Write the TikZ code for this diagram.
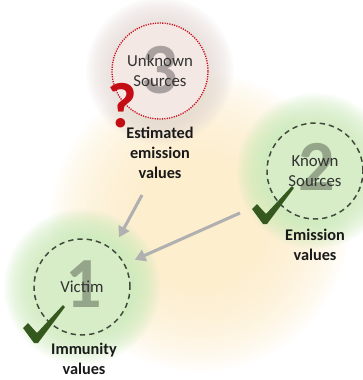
\documentclass[tikz,border=0pt]{standalone}
\usepackage{fontspec}
\setmainfont{Carlito}
\usetikzlibrary{arrows.meta, positioning}
\definecolor{creamglow}{RGB}{252,234,196}
\definecolor{leafglow}{RGB}{204,233,186}
\definecolor{leaffill}{RGB}{214,237,199}
\definecolor{fogglow}{RGB}{228,217,213}
\definecolor{fogfill}{RGB}{243,232,228}
\definecolor{ringgrey}{RGB}{64,72,58}
\definecolor{ringred}{RGB}{200,16,30}
\definecolor{tickgreen}{RGB}{52,88,30}
\definecolor{arrowgrey}{RGB}{176,176,176}
\definecolor{qred}{RGB}{196,12,20}
\tikzset{
  ring/.style={circle, minimum size=72pt, inner sep=0pt, align=center, text=black!80,
    font=\fontsize{12.6}{15}\selectfont},
  numeral/.style={inner sep=0pt, text=black, opacity=0.3, font=\fontsize{54}{54}\selectfont\bfseries},
  valuelabel/.style={align=center, inner sep=0pt, text=black!90, font=\fontsize{12.2}{15}\selectfont\bfseries},
  flow/.style={draw=arrowgrey, line width=2.3pt, -{Triangle[length=8pt, width=9pt]}},
  checkmark/.pic={\fill[tickgreen] (-13,-14) -- (-8,-19) -- (1,-9) -- (27,-37) -- (29,-35) -- (2,1) -- (-2,1) -- cycle;}
}
\begin{document}
\begin{tikzpicture}[x=0.75pt, y=-0.75pt]
  \useasboundingbox (0,0) rectangle (363,380);
  \foreach \k in {0,...,39}
    \fill[creamglow, opacity=0.045] (200,222) circle ({150-2.2*\k});
  \foreach \k in {0,...,23}
    \fill[fogglow, opacity=0.065] (160,71) circle ({74-1.25*\k});
  \foreach \k in {0,...,23}
    \fill[leafglow, opacity=0.07] (315,171) circle ({78-1.25*\k});
  \foreach \k in {0,...,23}
    \fill[leafglow, opacity=0.07] (82,287) circle ({78-1.25*\k});

  \node[ring, fill=fogfill, draw=ringred, line width=1pt, dash pattern=on 0.9pt off 0.9pt,
    path picture={\node[numeral] at ([yshift=1pt]path picture bounding box.center) {3};}]
    (unknown) at (160,71) {Unknown\\Sources};
  \node[ring, fill=leaffill, draw=ringgrey, line width=1.1pt, dash pattern=on 4pt off 3pt,
    path picture={\node[numeral] at ([xshift=1.5pt, yshift=3pt]path picture bounding box.center) {2};}]
    (known) at (315,171) {Known\\Sources};
  \node[ring, fill=leaffill, draw=ringgrey, line width=1.1pt, dash pattern=on 4pt off 3pt,
    path picture={\node[numeral] at ([xshift=1pt, yshift=2pt]path picture bounding box.center) {1};}]
    (victim) at (82,287) {Victim};

  \node[valuelabel] (estimated) at (160,153) {Estimated\\emission\\values};
  \node[valuelabel] (emission) at (315,245) {Emission\\values};
  \node[valuelabel] (immunity) at (84,359) {Immunity\\values};

  \node[text=qred, inner sep=0pt, font=\fontsize{48}{48}\selectfont\bfseries] (quest) at (122,106) {?};
  \pic at (265,223) {checkmark};
  \pic at (36,342) {checkmark};

  \coordinate (estout) at (142,195);
  \coordinate (knownout) at (240,213);
  \draw[flow, shorten >=10pt] (estout) -- (victim.51);
  \draw[flow, shorten >=8pt] (knownout) -- (victim.28);
\end{tikzpicture}
\end{document}
